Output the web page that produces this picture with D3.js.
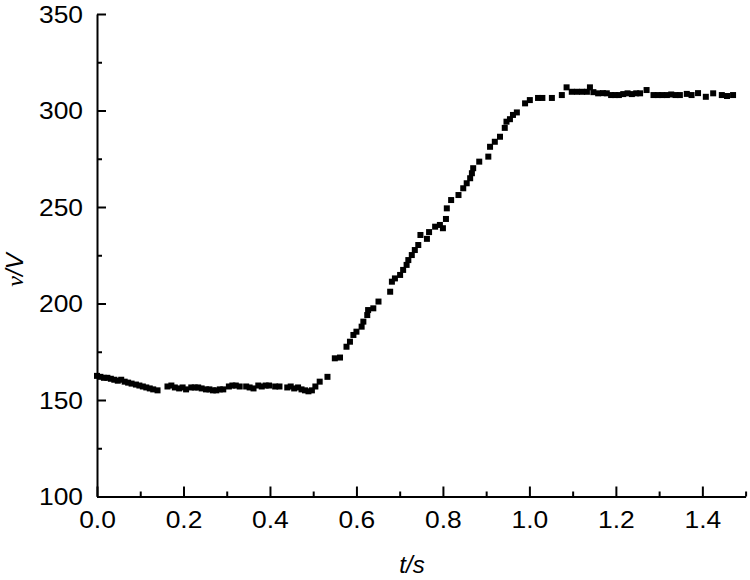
<!DOCTYPE html>
<html>
<head>
<meta charset="utf-8">
<script src="https://cdn.jsdelivr.net/npm/d3@7"></script>
<style>
  html, body { margin: 0; padding: 0; background: #fff; }
  svg { display: block; }
</style>
</head>
<body>
<svg id="chart" width="750" height="580"></svg>
<script>
// ---- data ----
const timeS = [
  0.000, 0.008, 0.016, 0.024, 0.032, 0.040, 0.048, 0.056, 0.064, 0.072,
  0.080, 0.090, 0.098, 0.106, 0.114, 0.122, 0.130, 0.140,
  0.163, 0.172, 0.180, 0.190, 0.198, 0.206, 0.218, 0.226, 0.234, 0.242,
  0.252, 0.260, 0.268, 0.276, 0.284, 0.292, 0.305, 0.313, 0.321, 0.330,
  0.345, 0.353, 0.362, 0.373, 0.381, 0.390, 0.398, 0.412, 0.422,
  0.440, 0.448, 0.456, 0.465, 0.473, 0.481, 0.489, 0.497, 0.505, 0.515, 0.533,
  0.550, 0.562, 0.577, 0.585, 0.593, 0.600, 0.612, 0.616, 0.625, 0.627,
  0.639, 0.651, 0.678, 0.682, 0.689, 0.701, 0.708, 0.716, 0.720, 0.728,
  0.735, 0.743, 0.748, 0.763, 0.768, 0.782, 0.793, 0.800, 0.807, 0.809,
  0.819, 0.836, 0.847, 0.855, 0.863, 0.867, 0.870, 0.884, 0.905, 0.909,
  0.920, 0.932, 0.943, 0.947, 0.955, 0.962, 0.971, 0.990, 1.001, 1.020,
  1.030, 1.052,
  1.075, 1.086, 1.098, 1.110, 1.122, 1.133, 1.140, 1.148, 1.159, 1.170,
  1.179, 1.189, 1.198, 1.207, 1.217, 1.227, 1.237, 1.247, 1.256, 1.271,
  1.287, 1.297, 1.307, 1.318, 1.328, 1.338, 1.348, 1.364, 1.375, 1.390,
  1.408, 1.425, 1.445, 1.457, 1.471
];
const voltageV = [
  162.5, 162.0, 161.5, 161.5, 161.0, 160.5, 160.0, 160.5, 159.5, 159.0,
  158.5, 158.0, 157.5, 157.0, 156.5, 156.0, 155.5, 155.0,
  157.0, 157.5, 156.5, 156.0, 156.5, 155.5, 156.5, 156.5, 156.5, 156.0,
  155.5, 155.5, 155.0, 155.0, 155.5, 155.5, 157.0, 157.5, 157.5, 157.0,
  157.0, 156.5, 156.0, 157.5, 157.0, 157.5, 157.5, 157.0, 157.0,
  156.5, 157.0, 156.0, 156.5, 155.5, 155.0, 154.5, 155.0, 157.0, 159.5, 162.0,
  171.6, 172.0, 177.6, 180.2, 183.7, 185.4, 188.0, 190.6, 194.0, 196.6,
  197.5, 201.0, 206.1, 211.3, 213.0, 214.8, 217.4, 220.0, 222.5, 225.1,
  227.7, 230.3, 235.5, 233.5, 237.0, 239.8, 240.7, 239.0, 243.8, 249.3,
  253.6, 256.2, 259.7, 262.3, 264.9, 267.5, 270.1, 273.5, 276.1, 281.2,
  283.8, 286.4, 291.0, 294.2, 295.5, 297.7, 299.0, 303.7, 305.4, 306.5,
  306.5, 306.5,
  308.0, 312.0, 309.7, 309.7, 309.7, 309.7, 312.0, 309.5, 308.9, 309.0,
  308.9, 308.0, 308.0, 308.0, 308.5, 308.9, 308.5, 308.9, 308.9, 310.6,
  308.0, 308.0, 308.0, 308.0, 308.3, 308.0, 308.0, 308.6, 308.0, 309.0,
  307.1, 308.9, 308.0, 307.5, 308.0
];
const xMajorTicks = [0.0, 0.2, 0.4, 0.6, 0.8, 1.0, 1.2, 1.4];
const xMinorTicks = [0.1, 0.3, 0.5, 0.7, 0.9, 1.1, 1.3, 1.5];
const yMajorTicks = [100, 150, 200, 250, 300, 350];
const yMinorTicks = [125, 175, 225, 275, 325];
const xTitle = "t/s";

// ---- layout ----
const svg = d3.select("#chart");
const plotL = 97, plotR = 745.6, plotT = 14, plotB = 496.5;
const x = d3.scaleLinear().domain([0, 1.5]).range([plotL, plotR]);
const y = d3.scaleLinear().domain([100, 350]).range([plotB, plotT]);
const font = "'Liberation Sans', Arial, sans-serif";

const points = timeS.map((t, i) => ({ t, v: voltageV[i] }));

// markers
const s = 6;
svg.append("g").selectAll("rect").data(points).join("rect")
  .attr("x", d => x(d.t) - s / 2)
  .attr("y", d => y(d.v) - s / 2)
  .attr("width", s).attr("height", s)
  .attr("fill", "#000");

// x axis
const gx = svg.append("g").attr("transform", `translate(0,${plotB})`);
gx.call(d3.axisBottom(x).tickValues(xMajorTicks).tickSizeInner(-10).tickSizeOuter(0)
  .tickFormat(d3.format(".1f")));
gx.select(".domain").attr("stroke", "#000").attr("stroke-width", 2);
gx.selectAll(".tick line").attr("stroke", "#000").attr("stroke-width", 2);
gx.selectAll(".tick text")
  .attr("y", 0).attr("dy", null)
  .attr("transform", "translate(0,31) scale(1.1,1)")
  .attr("font-family", font).attr("font-size", 24).attr("fill", "#000");
const gxm = svg.append("g").attr("transform", `translate(0,${plotB})`);
gxm.call(d3.axisBottom(x).tickValues(xMinorTicks).tickSizeInner(-5).tickSizeOuter(0).tickFormat(""));
gxm.select(".domain").remove();
gxm.selectAll(".tick line").attr("stroke", "#000").attr("stroke-width", 2);

// y axis
const gy = svg.append("g").attr("transform", `translate(${plotL},0)`);
gy.call(d3.axisLeft(y).tickValues(yMajorTicks).tickSizeInner(-9).tickSizeOuter(0));
gy.select(".domain").attr("stroke", "#000").attr("stroke-width", 2);
gy.selectAll(".tick line").attr("stroke", "#000").attr("stroke-width", 2);
gy.selectAll(".tick text")
  .attr("x", 0).attr("dy", "0.35em")
  .attr("transform", "translate(-14,0) scale(1.1,1)")
  .attr("font-family", font).attr("font-size", 24).attr("fill", "#000");
const gym = svg.append("g").attr("transform", `translate(${plotL},0)`);
gym.call(d3.axisLeft(y).tickValues(yMinorTicks).tickSizeInner(-5).tickSizeOuter(0).tickFormat(""));
gym.select(".domain").remove();
gym.selectAll(".tick line").attr("stroke", "#000").attr("stroke-width", 2);

// axis titles
svg.append("text")
  .attr("x", 412).attr("y", 573)
  .attr("text-anchor", "middle")
  .attr("font-family", font).attr("font-size", 24).attr("font-style", "italic")
  .attr("fill", "#000")
  .text(xTitle);

const yt = svg.append("text")
  .attr("transform", "translate(23,270) rotate(-90)")
  .attr("text-anchor", "middle")
  .attr("font-size", 24).attr("font-style", "italic").attr("fill", "#000");
yt.append("tspan").attr("font-family", "'Liberation Serif', 'Times New Roman', serif").text("ν");
yt.append("tspan").attr("font-family", font).text("/V");
</script>
</body>
</html>
